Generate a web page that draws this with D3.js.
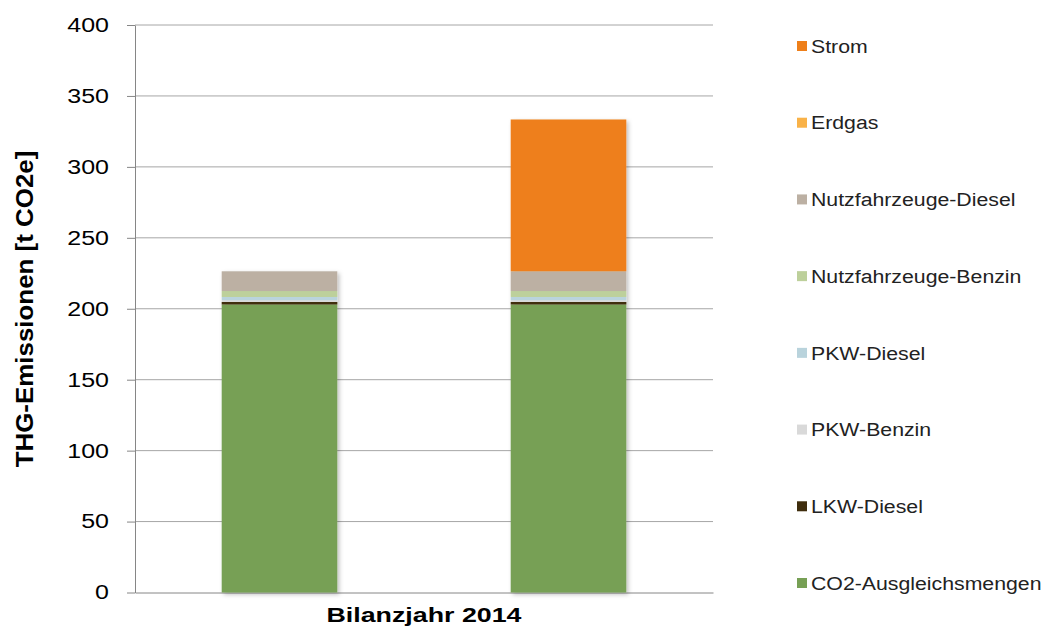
<!DOCTYPE html>
<html>
<head>
<meta charset="utf-8">
<script src="https://cdn.jsdelivr.net/npm/d3@7"></script>
<style>
  body { margin: 0; background: #fff; }
  text { font-family: "Liberation Sans", Arial, sans-serif; fill: #000; }
</style>
</head>
<body>
<div id="chart-container"></div>
<script>
// data
const categories = ['Variante A', 'Variante B'];
const seriesNames = ['CO2-Ausgleichsmengen', 'LKW-Diesel', 'PKW-Benzin', 'PKW-Diesel',
  'Nutzfahrzeuge-Benzin', 'Nutzfahrzeuge-Diesel', 'Erdgas', 'Strom'];
const seriesColors = ['#77A055', '#3F2D0D', '#D9D9D9', '#B9D3DC',
  '#BDD09B', '#BCB0A3', '#F9B248', '#EE7F1A'];
const co2Values = [203, 203];
const lkwDieselValues = [1.8, 1.8];
const pkwBenzinValues = [1.2, 1.2];
const pkwDieselValues = [2.3, 2.3];
const nfBenzinValues = [4.2, 4.2];
const nfDieselValues = [13.9, 13.9];
const erdgasValues = [0, 0];
const stromValues = [0, 107];
const yTicks = [0, 50, 100, 150, 200, 250, 300, 350, 400];

const seriesValues = [co2Values, lkwDieselValues, pkwBenzinValues, pkwDieselValues,
  nfBenzinValues, nfDieselValues, erdgasValues, stromValues];

// table for d3.stack
const table = categories.map((c, i) => {
  const row = { cat: c };
  seriesNames.forEach((s, k) => { row[s] = seriesValues[k][i]; });
  return row;
});

const svgWidth = 1045;
const svgHeight = 627;
const plot = { left: 135, right: 713, top: 25, bottom: 592.5 };

const svg = d3.select('#chart-container')
  .append('svg')
  .attr('width', svgWidth)
  .attr('height', svgHeight);

// soft shadow like the office chart
const defs = svg.append('defs');
defs.append('filter')
  .attr('id', 'shadow')
  .attr('x', '-20%').attr('y', '-20%').attr('width', '140%').attr('height', '140%')
  .append('feDropShadow')
  .attr('dx', 2).attr('dy', 2).attr('stdDeviation', 2)
  .attr('flood-color', '#000').attr('flood-opacity', 0.25);

const xScale = d3.scaleBand()
  .domain(categories)
  .range([plot.left, plot.right])
  .paddingInner(0.6)
  .paddingOuter(0.3);

const yScale = d3.scaleLinear()
  .domain([0, 400])
  .range([plot.bottom, plot.top]);

// gridlines
svg.append('g')
  .selectAll('line')
  .data(yTicks.filter(t => t > 0))
  .enter()
  .append('line')
  .attr('x1', plot.left)
  .attr('x2', plot.right)
  .attr('y1', d => yScale(d))
  .attr('y2', d => yScale(d))
  .attr('stroke', '#A6A6A6')
  .attr('stroke-width', 1);

// y axis
const yAxis = svg.append('g')
  .attr('transform', `translate(${plot.left},0)`)
  .call(d3.axisLeft(yScale).tickValues(yTicks).tickSize(8).tickSizeOuter(0).tickPadding(26));
yAxis.select('.domain').attr('stroke', '#868686');
yAxis.selectAll('.tick line').attr('stroke', '#868686');
const tickScale = 1.25;
yAxis.selectAll('.tick text')
  .style('font-size', '20px')
  .attr('x', -26 / tickScale)
  .attr('transform', `scale(${tickScale},1)`);

// x axis line
svg.append('g')
  .attr('transform', `translate(0,${plot.bottom})`)
  .call(d3.axisBottom(xScale).tickSize(0).tickFormat(''))
  .select('.domain')
  .attr('stroke', '#868686');

// stacked bars
const stack = d3.stack().keys(seriesNames);
const layers = stack(table);

const barGroups = svg.append('g')
  .selectAll('g')
  .data(categories)
  .enter()
  .append('g')
  .attr('filter', 'url(#shadow)');

barGroups.each(function (cat, i) {
  d3.select(this).selectAll('rect')
    .data(layers.map((layer, k) => ({ key: layer.key, k: k, y0: layer[i][0], y1: layer[i][1] })))
    .enter()
    .append('rect')
    .attr('x', xScale(cat))
    .attr('width', xScale.bandwidth())
    .attr('y', d => yScale(d.y1))
    .attr('height', d => yScale(d.y0) - yScale(d.y1))
    .attr('fill', d => seriesColors[d.k]);
});

// axis titles
svg.append('text')
  .attr('transform', 'translate(33,309) rotate(-90) scale(1.08,1)')
  .attr('text-anchor', 'middle')
  .style('font-size', '24px')
  .style('font-weight', 'bold')
  .text('THG-Emissionen [t CO2e]');

svg.append('text')
  .attr('transform', 'translate(424,622) scale(1.34,1)')
  .attr('text-anchor', 'middle')
  .style('font-size', '20px')
  .style('font-weight', 'bold')
  .text('Bilanzjahr 2014');

// legend, top entry is the last stacked series
const legendOrder = seriesNames.slice().reverse();
const legendY = d3.scalePoint()
  .domain(legendOrder)
  .range([46, 583]);

const legend = svg.append('g')
  .selectAll('g')
  .data(legendOrder)
  .enter()
  .append('g')
  .attr('transform', d => `translate(797,${legendY(d)})`);

legend.append('rect')
  .attr('x', 0)
  .attr('y', -5)
  .attr('width', 10)
  .attr('height', 10)
  .attr('fill', d => seriesColors[seriesNames.indexOf(d)]);

legend.append('text')
  .attr('transform', 'translate(14,0) scale(1.12,1)')
  .attr('dy', '0.35em')
  .style('font-size', '19px')
  .style('fill', '#222')
  .text(d => d);
</script>
</body>
</html>
